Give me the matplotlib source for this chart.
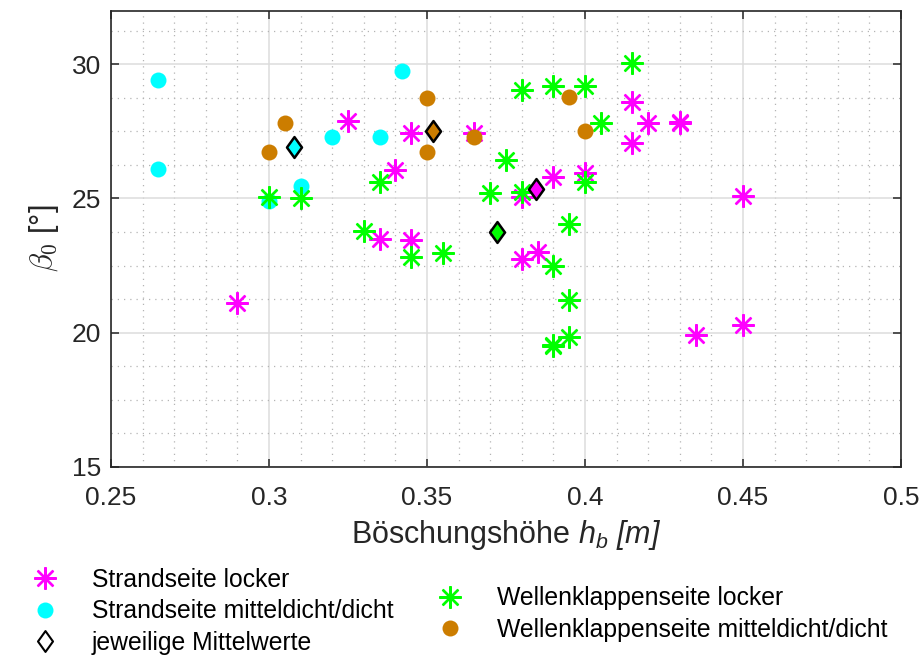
import matplotlib.pyplot as plt
from matplotlib.lines import Line2D
from matplotlib.path import Path
from matplotlib.ticker import MultipleLocator

plt.rcParams['font.family'] = ['Liberation Sans', 'DejaVu Sans']
# italic sans for the x label formula (brackets included)
plt.rcParams['mathtext.fontset'] = 'custom'
plt.rcParams['mathtext.rm'] = 'Liberation Sans:italic'
plt.rcParams['mathtext.it'] = 'Liberation Sans:italic'

# Strandseite, lockere Lagerung
strand_locker_h = [0.29, 0.325, 0.34, 0.335, 0.345, 0.345, 0.365, 0.38, 0.38, 0.385,
                   0.39, 0.40, 0.415, 0.415, 0.42, 0.43, 0.43, 0.435, 0.45, 0.45]
strand_locker_beta = [21.1, 27.9, 26.05, 23.5, 27.45, 23.45, 27.45, 25.05, 22.75, 23.0,
                      25.8, 25.95, 28.6, 27.05, 27.8, 27.8, 27.85, 19.9, 25.1, 20.3]

# Strandseite, mitteldicht/dicht
strand_dicht_h = [0.265, 0.265, 0.30, 0.31, 0.32, 0.335, 0.342]
strand_dicht_beta = [29.4, 26.1, 24.9, 25.45, 27.3, 27.3, 29.75]

# Wellenklappenseite, lockere Lagerung
welle_locker_h = [0.30, 0.31, 0.33, 0.335, 0.345, 0.355, 0.37, 0.375, 0.38, 0.38, 0.39,
                  0.39, 0.39, 0.39, 0.395, 0.395, 0.395, 0.40, 0.40, 0.405, 0.415]
welle_locker_beta = [25.05, 25.0, 23.8, 25.6, 22.8, 22.95, 25.2, 26.45, 29.05, 25.25, 29.2,
                     22.5, 19.5, 19.55, 24.05, 21.2, 19.85, 29.2, 25.6, 27.8, 30.05]

# Wellenklappenseite, mitteldicht/dicht
welle_dicht_h = [0.30, 0.305, 0.35, 0.35, 0.365, 0.395, 0.40]
welle_dicht_beta = [26.75, 27.8, 28.75, 26.75, 27.3, 28.8, 27.5]

# Mittelwerte je Gruppe
gruppen = ['Strandseite locker', 'Strandseite mitteldicht/dicht',
           'Wellenklappenseite locker', 'Wellenklappenseite mitteldicht/dicht']
mittel_h = [0.3845, 0.308, 0.372, 0.352]
mittel_beta = [25.35, 26.9, 23.75, 27.5]

farben = {'Strandseite locker': '#ff00ff',
          'Strandseite mitteldicht/dicht': '#00ffff',
          'Wellenklappenseite locker': '#00ff00',
          'Wellenklappenseite mitteldicht/dicht': '#cc7d00'}

stern = (8, 2, 0)
raute = Path([(0, 1), (0.72, 0), (0, -1), (-0.72, 0), (0, 1)],
             [Path.MOVETO, Path.LINETO, Path.LINETO, Path.LINETO, Path.CLOSEPOLY])

fig = plt.figure(figsize=(9.19, 6.57), dpi=100)
ax = fig.add_axes([0.1208, 0.2897, 0.8596, 0.694])

sl, = ax.plot(strand_locker_h, strand_locker_beta, ls='none', marker=stern, ms=16,
              mew=1.7, color=farben[gruppen[0]])
sd, = ax.plot(strand_dicht_h, strand_dicht_beta, ls='none', marker='o', ms=11.5,
              mew=0, color=farben[gruppen[1]])
wl, = ax.plot(welle_locker_h, welle_locker_beta, ls='none', marker=stern, ms=16,
              mew=1.7, color=farben[gruppen[2]])
wd, = ax.plot(welle_dicht_h, welle_dicht_beta, ls='none', marker='o', ms=11.5,
              mew=0, color=farben[gruppen[3]])
for h, b, g in zip(mittel_h, mittel_beta, gruppen):
    ax.plot(h, b, ls='none', marker=raute, ms=15, mfc=farben[g], mec='black', mew=1.8)

ax.set_xlim(0.25, 0.5)
ax.set_ylim(15, 32)
ax.xaxis.set_minor_locator(MultipleLocator(0.01))
ax.yaxis.set_major_locator(MultipleLocator(5))
ax.yaxis.set_minor_locator(MultipleLocator(1.25))
ax.set_xticks([0.25, 0.3, 0.35, 0.4, 0.45, 0.5])
ax.set_xticklabels(['0.25', '0.3', '0.35', '0.4', '0.45', '0.5'])

ax.grid(which='major', color='#dcdcdc', lw=1.1, ls='-')
ax.grid(which='minor', color='#b4b4b4', lw=0.9, ls=(0, (1, 4)))
ax.set_axisbelow(True)

for s in ax.spines.values():
    s.set_color('#262626')
    s.set_linewidth(1.2)
ax.tick_params(which='major', direction='in', length=6, width=1.1, top=True, right=True,
               colors='#262626', labelsize=19)
ax.tick_params(axis='x', which='major', pad=14)
ax.tick_params(axis='y', which='major', pad=7)
ax.tick_params(which='minor', length=0, top=True, right=True)

ax.set_xlabel(r'Böschungshöhe $h_b\ [m]$', fontsize=22, color='#262626', labelpad=6)
ax.set_ylabel(r'$\beta_0$ [°]', fontsize=22, color='#262626', labelpad=8,
              math_fontfamily='cm')

mittel_proxy = Line2D([], [], ls='none', marker=raute, ms=15, mfc='white',
                      mec='black', mew=1.5)
leg_kw = dict(frameon=False, fontsize=17.8, handlelength=1.0, handletextpad=1.4,
              borderaxespad=0, borderpad=0, labelspacing=0.3, loc='center left')
fig.legend([sl, sd, mittel_proxy],
           ['Strandseite locker', 'Strandseite mitteldicht/dicht', 'jeweilige Mittelwerte'],
           bbox_to_anchor=(32.5 / 919, 1 - 611.5 / 657), **leg_kw)
fig.legend([wl, wd],
           ['Wellenklappenseite locker', 'Wellenklappenseite mitteldicht/dicht'],
           bbox_to_anchor=(437.5 / 919, 1 - 614 / 657), **leg_kw)

fig.savefig('out.png', dpi=100)
